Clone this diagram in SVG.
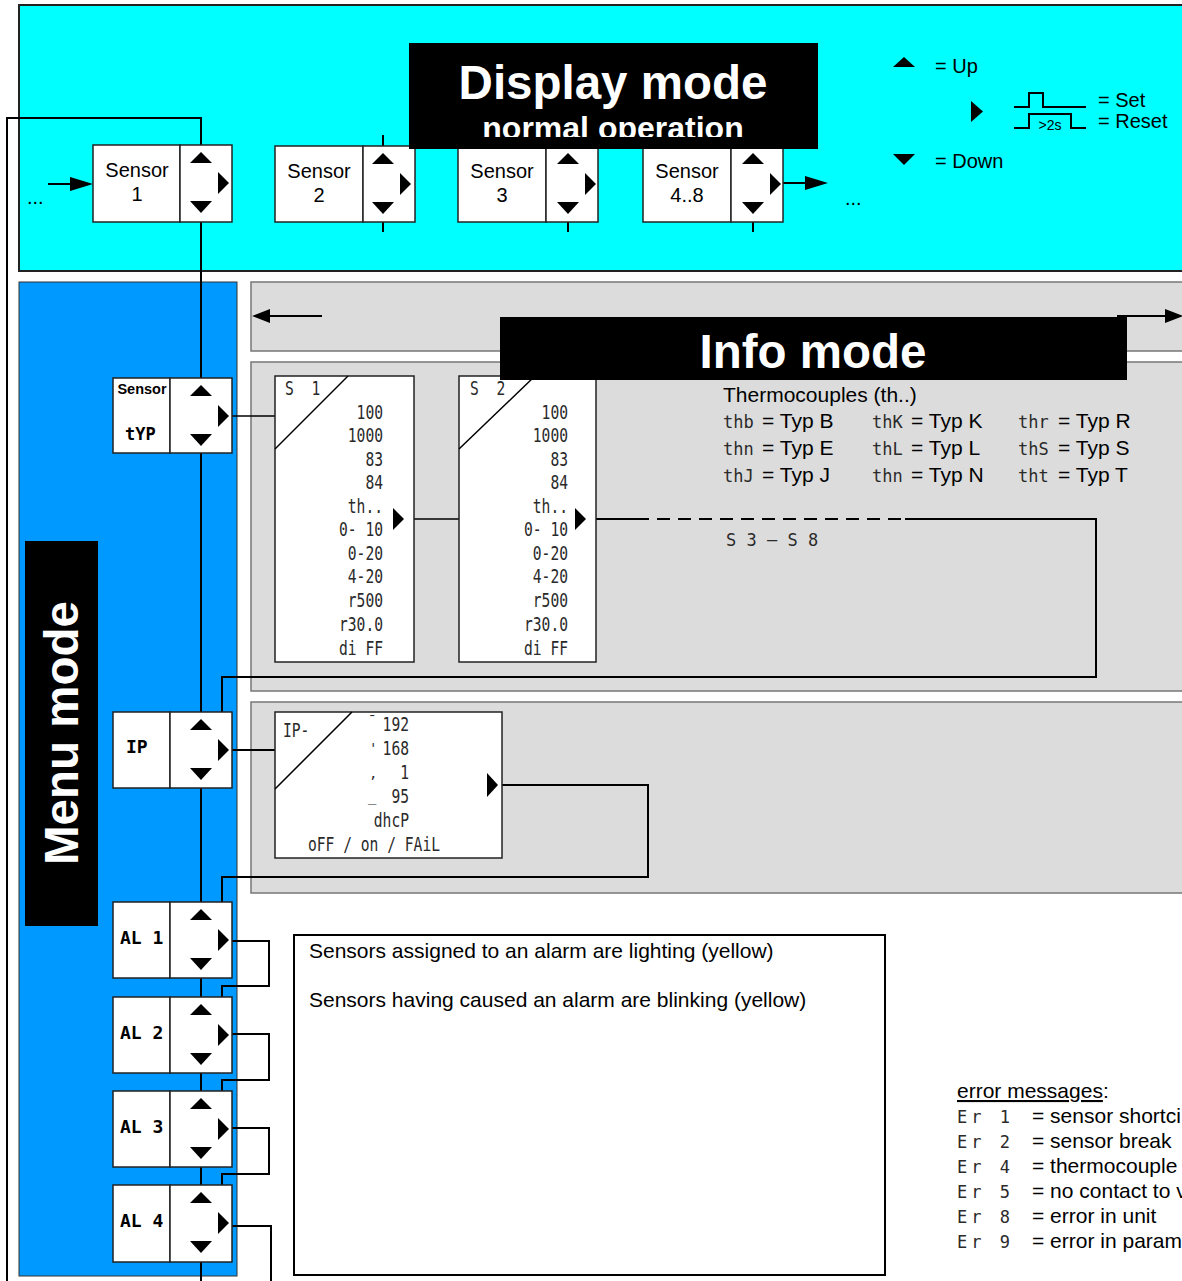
<svg xmlns="http://www.w3.org/2000/svg" width="1182" height="1281" viewBox="0 0 1182 1281">
<defs>
<style>
.t{font-family:"Liberation Sans",Arial,sans-serif;fill:#000}
.t20{font-size:20px}
.t21{font-size:21px}
.title{font-family:"Liberation Sans",Arial,sans-serif;font-weight:bold;fill:#fff;font-size:47.5px}
.seg{font-family:"DejaVu Sans Mono",monospace;fill:#2a2a2a;font-size:19px}
.segb{font-family:"DejaVu Sans Mono",monospace;fill:#000;font-weight:bold;font-size:18px}
.box{fill:#fff;stroke:#222;stroke-width:1.5}
.ln{fill:none;stroke:#000;stroke-width:2}
.thin{fill:none;stroke:#000;stroke-width:1.5}
.tri{fill:#000}
.gray{fill:#dcdcdc;stroke:#777;stroke-width:1.5}
</style>
<g id="arr">
<polygon class="tri" points="-11,18 0,7 11,18"/>
<polygon class="tri" points="17,27 28,38 17,49"/>
<polygon class="tri" points="-11,56 11,56 0,68"/>
</g>
<clipPath id="clipNo"><rect x="409" y="43" width="409" height="94"/></clipPath>
</defs>

<!-- backgrounds -->
<rect x="19" y="5" width="1170" height="266" fill="#00ffff" stroke="#222" stroke-width="2"/>
<rect x="19" y="282" width="218" height="994" fill="#0099ff" stroke="#333" stroke-width="1"/>
<rect class="gray" x="251" y="282" width="940" height="69"/>
<rect class="gray" x="251" y="362" width="940" height="329"/>
<rect class="gray" x="251" y="702" width="940" height="191"/>
<rect x="294" y="935" width="591" height="340" fill="#fff" stroke="#000" stroke-width="2"/>

<!-- connectors -->
<g id="connectors">
<polyline class="ln" points="7,1281 7,118 201,118 201,1281"/>
<line class="ln" x1="48" y1="184" x2="72" y2="184"/>
<polygon class="tri" points="70,177 93,184 70,191"/>
<line class="ln" x1="783" y1="183" x2="806" y2="183"/>
<polygon class="tri" points="805,176 828,183 805,190"/>
<line class="ln" x1="383" y1="135" x2="383" y2="146"/>
<line class="ln" x1="383" y1="222" x2="383" y2="232"/>
<line class="ln" x1="568" y1="222" x2="568" y2="232"/>
<line class="ln" x1="753" y1="222" x2="753" y2="232"/>
<line class="ln" x1="270" y1="316" x2="322" y2="316"/>
<polygon class="tri" points="252,316 270,309 270,323"/>
<line class="ln" x1="1117" y1="316" x2="1166" y2="316"/>
<polygon class="tri" points="1165,309 1183,316 1165,323"/>
<line class="thin" x1="230" y1="416" x2="275" y2="416"/>
<line class="thin" x1="404" y1="519" x2="459" y2="519"/>
<line class="ln" x1="586" y1="519" x2="636" y2="519"/>
<line class="ln" x1="636" y1="519" x2="905" y2="519" stroke-dasharray="13,8"/>
<polyline class="ln" points="905,519 1096,519 1096,677 222,677 222,712"/>
<line class="ln" x1="230" y1="750" x2="275" y2="750"/>
<polyline class="ln" points="498,785 648,785 648,877 222,877 222,902"/>
<polyline class="ln" points="230,941 269,941 269,986 222,986 222,997"/>
<polyline class="ln" points="230,1034 269,1034 269,1080 222,1080 222,1091"/>
<polyline class="ln" points="230,1128 269,1128 269,1174 222,1174 222,1185"/>
<polyline class="ln" points="230,1226 271,1226 271,1281"/>
</g>

<!-- display mode sensors -->
<g id="sensor1">
<rect class="box" x="93" y="145" width="87" height="77"/>
<rect class="box" x="180" y="145" width="52" height="77"/>
<use href="#arr" x="201" y="145"/>
<text class="t t20" x="137" y="177" text-anchor="middle">Sensor</text>
<text class="t t20" x="137" y="201" text-anchor="middle">1</text>
</g>
<g id="sensor2">
<rect class="box" x="275" y="146" width="88" height="76"/>
<rect class="box" x="363" y="146" width="52" height="76"/>
<use href="#arr" x="383" y="146"/>
<text class="t t20" x="319" y="178" text-anchor="middle">Sensor</text>
<text class="t t20" x="319" y="202" text-anchor="middle">2</text>
</g>
<g id="sensor3">
<rect class="box" x="458" y="146" width="88" height="76"/>
<rect class="box" x="546" y="146" width="52" height="76"/>
<use href="#arr" x="568" y="146"/>
<text class="t t20" x="502" y="178" text-anchor="middle">Sensor</text>
<text class="t t20" x="502" y="202" text-anchor="middle">3</text>
</g>
<g id="sensor4-8">
<rect class="box" x="643" y="146" width="88" height="76"/>
<rect class="box" x="731" y="146" width="52" height="76"/>
<use href="#arr" x="753" y="146"/>
<text class="t t20" x="687" y="178" text-anchor="middle">Sensor</text>
<text class="t t20" x="687" y="202" text-anchor="middle">4..8</text>
</g>
<text class="t t20" x="27" y="204">...</text>
<text class="t t20" x="845" y="205">...</text>

<!-- display mode title -->
<g id="display-title">
<rect x="409" y="43" width="409" height="106" fill="#000"/>
<text class="title" x="613" y="99" text-anchor="middle">Display mode</text>
<text class="title" x="613" y="139" text-anchor="middle" style="font-size:32px" clip-path="url(#clipNo)">normal operation</text>
</g>

<!-- legend -->
<g id="legend">
<polygon class="tri" points="893,67 904,57 915,67"/>
<text class="t t20" x="935" y="73">= Up</text>
<polygon class="tri" points="971,101 983,111.5 971,122"/>
<path class="ln" d="M1014 107 H1029 V93 H1043 V107 H1086"/>
<path class="ln" d="M1014 128 H1029 V114 H1071 V128 H1086"/>
<text class="t" x="1050" y="130" text-anchor="middle" style="font-size:14px">&gt;2s</text>
<text class="t t20" x="1098" y="107">= Set</text>
<text class="t t20" x="1098" y="128">= Reset</text>
<polygon class="tri" points="893,154 915,154 904,165"/>
<text class="t t20" x="935" y="168">= Down</text>
</g>

<!-- menu mode nodes -->
<g id="menu-sensor-typ">
<rect class="box" x="113" y="378" width="57" height="75"/>
<rect class="box" x="170" y="378" width="62" height="75"/>
<use href="#arr" x="201" y="378"/>
<text class="t" x="142" y="394" text-anchor="middle" style="font-size:14.5px;font-weight:bold">Sensor</text>
<text class="segb" x="125" y="440" style="font-size:17px">tYP</text>
</g>
<g id="menu-ip">
<rect class="box" x="113" y="712" width="57" height="76"/>
<rect class="box" x="170" y="712" width="62" height="76"/>
<use href="#arr" x="201" y="712"/>
<text class="segb" x="126" y="753">IP</text>
</g>
<g id="menu-al1">
<rect class="box" x="113" y="902" width="57" height="76"/>
<rect class="box" x="170" y="902" width="62" height="76"/>
<use href="#arr" x="201" y="902"/>
<text class="segb" x="120" y="944" xml:space="preserve">AL 1</text>
</g>
<g id="menu-al2">
<rect class="box" x="113" y="997" width="57" height="76"/>
<rect class="box" x="170" y="997" width="62" height="76"/>
<use href="#arr" x="201" y="997"/>
<text class="segb" x="120" y="1039" xml:space="preserve">AL 2</text>
</g>
<g id="menu-al3">
<rect class="box" x="113" y="1091" width="57" height="76"/>
<rect class="box" x="170" y="1091" width="62" height="76"/>
<use href="#arr" x="201" y="1091"/>
<text class="segb" x="120" y="1133" xml:space="preserve">AL 3</text>
</g>
<g id="menu-al4">
<rect class="box" x="113" y="1185" width="57" height="77"/>
<rect class="box" x="170" y="1185" width="62" height="77"/>
<use href="#arr" x="201" y="1185"/>
<text class="segb" x="120" y="1227" xml:space="preserve">AL 4</text>
</g>

<g id="menu-title">
<rect x="25" y="541" width="73" height="385" fill="#000"/>
<text class="title" transform="translate(78,733) rotate(-90)" text-anchor="middle">Menu mode</text>
</g>

<!-- info nodes -->
<g id="info-s1">
<rect class="box" x="275" y="376" width="139" height="286"/>
<line class="thin" x1="275" y1="449" x2="348" y2="376"/>
<g transform="translate(285 0) scale(0.77 1)" class="seg"><text y="395" xml:space="preserve">S  1</text></g>
<g transform="translate(383 0) scale(0.77 1)" class="seg" text-anchor="end">
<text y="419">100</text><text y="442">1000</text><text y="466">83</text><text y="489">84</text><text y="513">th..</text><text y="536" xml:space="preserve">0- 10</text><text y="560">0-20</text><text y="583">4-20</text><text y="607">r500</text><text y="631">r30.0</text><text y="655" xml:space="preserve">di FF</text>
</g>
<polygon class="tri" points="393,508 404,519 393,530"/>
</g>
<g id="info-s2">
<rect class="box" x="459" y="376" width="137" height="286"/>
<line class="thin" x1="459" y1="449" x2="535" y2="376"/>
<g transform="translate(470 0) scale(0.77 1)" class="seg"><text y="395" xml:space="preserve">S  2</text></g>
<g transform="translate(568 0) scale(0.77 1)" class="seg" text-anchor="end">
<text y="419">100</text><text y="442">1000</text><text y="466">83</text><text y="489">84</text><text y="513">th..</text><text y="536" xml:space="preserve">0- 10</text><text y="560">0-20</text><text y="583">4-20</text><text y="607">r500</text><text y="631">r30.0</text><text y="655" xml:space="preserve">di FF</text>
</g>
<polygon class="tri" points="575,508 586,519 575,530"/>
</g>
<text class="seg" x="726" y="546" xml:space="preserve" style="font-size:17px">S 3 – S 8</text>

<g id="info-title">
<rect x="500" y="317" width="627" height="63" fill="#000"/>
<text class="title" x="813" y="368" text-anchor="middle">Info mode</text>
</g>

<g id="thermo-legend">
<text class="t t21" x="723" y="402">Thermocouples (th..)</text>
<g class="seg" style="font-size:17px">
<text x="723" y="428">thb</text><text x="723" y="455">thn</text><text x="723" y="482">thJ</text>
<text x="872" y="428">thK</text><text x="872" y="455">thL</text><text x="872" y="482">thn</text>
<text x="1018" y="428">thr</text><text x="1018" y="455">thS</text><text x="1018" y="482">tht</text>
</g>
<g class="t t21">
<text x="762" y="428">= Typ B</text><text x="762" y="455">= Typ E</text><text x="762" y="482">= Typ J</text>
<text x="911" y="428">= Typ K</text><text x="911" y="455">= Typ L</text><text x="911" y="482">= Typ N</text>
<text x="1058" y="428">= Typ R</text><text x="1058" y="455">= Typ S</text><text x="1058" y="482">= Typ T</text>
</g>
</g>

<g id="info-ip">
<rect class="box" x="275" y="712" width="227" height="146"/>
<line class="thin" x1="275" y1="789" x2="352" y2="712"/>
<g transform="translate(283 0) scale(0.77 1)" class="seg"><text y="737">IP-</text></g>
<g transform="translate(409 0) scale(0.77 1)" class="seg" text-anchor="end">
<text y="731">192</text><text y="755">168</text><text y="779">1</text><text y="803">95</text><text y="827">dhcP</text>
</g>
<g class="seg" style="font-size:14px">
<text x="368" y="726">¯</text><text x="369" y="753">'</text><text x="369" y="778">,</text><text x="368" y="801">_</text>
</g>
<g transform="translate(374 0) scale(0.77 1)" class="seg" text-anchor="middle">
<text y="851">oFF / on / FAiL</text>
</g>
<polygon class="tri" points="487,773 498,785 487,797"/>
</g>

<g id="alarm-note">
<text class="t t21" x="309" y="958">Sensors assigned to an alarm are lighting (yellow)</text>
<text class="t t21" x="309" y="1007">Sensors having caused an alarm are blinking (yellow)</text>
</g>

<g id="errors">
<text class="t t21" x="957" y="1098"><tspan style="text-decoration:underline">error messages</tspan>:</text>
<g class="seg" style="font-size:17px;letter-spacing:4px">
<text x="957" y="1123" xml:space="preserve">Er 1</text>
<text x="957" y="1148" xml:space="preserve">Er 2</text>
<text x="957" y="1173" xml:space="preserve">Er 4</text>
<text x="957" y="1198" xml:space="preserve">Er 5</text>
<text x="957" y="1223" xml:space="preserve">Er 8</text>
<text x="957" y="1248" xml:space="preserve">Er 9</text>
</g>
<g class="t t21">
<text x="1032" y="1123">= sensor shortci</text>
<text x="1032" y="1148">= sensor break</text>
<text x="1032" y="1173">= thermocouple</text>
<text x="1032" y="1198">= no contact to v</text>
<text x="1032" y="1223">= error in unit</text>
<text x="1032" y="1248">= error in param</text>
</g>
</g>
</svg>
